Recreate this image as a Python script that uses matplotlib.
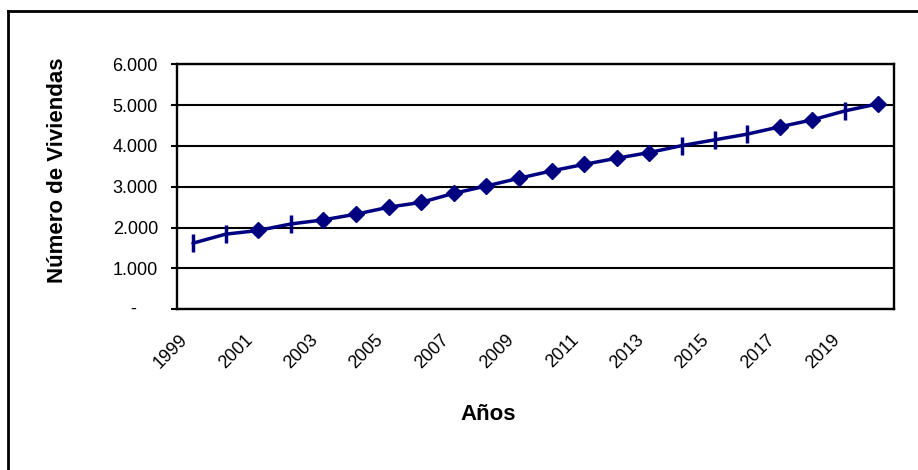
import matplotlib
matplotlib.use("Agg")
import matplotlib.pyplot as plt
from matplotlib.lines import Line2D
from matplotlib.transforms import ScaledTranslation, blended_transform_factory

plt.rcParams['font.family'] = ['Liberation Sans', 'DejaVu Sans']

# Número de viviendas por año
anios = [1999, 2000, 2001, 2002, 2003, 2004, 2005, 2006, 2007, 2008, 2009,
         2010, 2011, 2012, 2013, 2014, 2015, 2016, 2017, 2018, 2019, 2020]
viviendas = [1620, 1840, 1930, 2090, 2190, 2330, 2500, 2620, 2840, 3020, 3210,
             3390, 3550, 3700, 3840, 4010, 4150, 4290, 4470, 4640, 4860, 5030]
# años marcados con trazo vertical en lugar de rombo
anios_trazo = [1999, 2000, 2002, 2014, 2015, 2016, 2019]

y_ticks = [0, 1000, 2000, 3000, 4000, 5000, 6000]
y_labels = ["", "1.000", "2.000", "3.000", "4.000", "5.000", "6.000"]
x_label_years = anios[::2]

W, H = 918, 470
fig = plt.figure(figsize=(W / 100, H / 100), dpi=100)
fig.patch.set_facecolor('white')

left, right, top, bottom = 176.7, 894.0, 64.3, 309.3
ax = fig.add_axes([left / W, 1 - bottom / H, (right - left) / W, (bottom - top) / H])

navy = '#000080'
tick_fs = 13
pos = list(range(len(anios)))
ax.plot(pos, viviendas, color=navy, lw=2.5, zorder=3, solid_capstyle='round')

rombo_x = [i for i, a in enumerate(anios) if a not in anios_trazo]
rombo_y = [viviendas[i] for i in rombo_x]
trazo_x = [i for i, a in enumerate(anios) if a in anios_trazo]
trazo_y = [viviendas[i] for i in trazo_x]
ax.plot(rombo_x, rombo_y, ls='none', marker='D', ms=8.5, mfc=navy, mec=navy,
        mew=1, zorder=4)
ax.plot(trazo_x, trazo_y, ls='none', marker='|', ms=12.5, mec=navy,
        mew=2.5, zorder=4)

ax.set_xlim(-0.5, len(anios) - 0.5)
ax.set_ylim(0, 6000)

# horizontal gridlines
ax.set_yticks(y_ticks)
ax.set_yticklabels(y_labels, fontsize=tick_fs, color='black')
ax.yaxis.grid(True, color='black', lw=1.5)
ax.set_axisbelow(True)
ax.tick_params(axis='y', direction='out', length=4, width=1.5, pad=9.5)

# zero shown as a dash, Excel accounting style
tr = blended_transform_factory(ax.transAxes, ax.transData)
ax.text(-(left - 133.5) / (right - left), 0, "-", transform=tr,
        ha='center', va='center', fontsize=tick_fs, color='black')

xt = [anios.index(a) for a in x_label_years]
ax.set_xticks(xt)
ax.set_xticklabels([str(a) for a in x_label_years], rotation=45, ha='right',
                   va='top', rotation_mode='anchor', fontsize=tick_fs, color='black')
ax.tick_params(axis='x', length=0, pad=16)
shift = ScaledTranslation(-14 / 100, 0, fig.dpi_scale_trans)
for lab in ax.get_xticklabels():
    lab.set_transform(lab.get_transform() + shift)

for s in ['left', 'right', 'bottom', 'top']:
    ax.spines[s].set_color('black')
    ax.spines[s].set_linewidth(1.7)

# axis titles
fig.text(63 / W, 1 - 170.5 / H, "Número de Viviendas", rotation=90,
         rotation_mode='anchor', ha='center', va='baseline',
         fontsize=16, fontweight='bold')
fig.text(488.5 / W, 1 - 420 / H, "Años", ha='center', va='baseline',
         fontsize=16, fontweight='bold')

# chart frame
fig.add_artist(Line2D([8 / W, 8 / W], [0, 1 - 11 / H], color='black', lw=2,
                      transform=fig.transFigure))
fig.add_artist(Line2D([8 / W, 1], [1 - 11 / H, 1 - 11 / H], color='black', lw=2,
                      transform=fig.transFigure))

fig.savefig('out.png', dpi=100, facecolor='white')
